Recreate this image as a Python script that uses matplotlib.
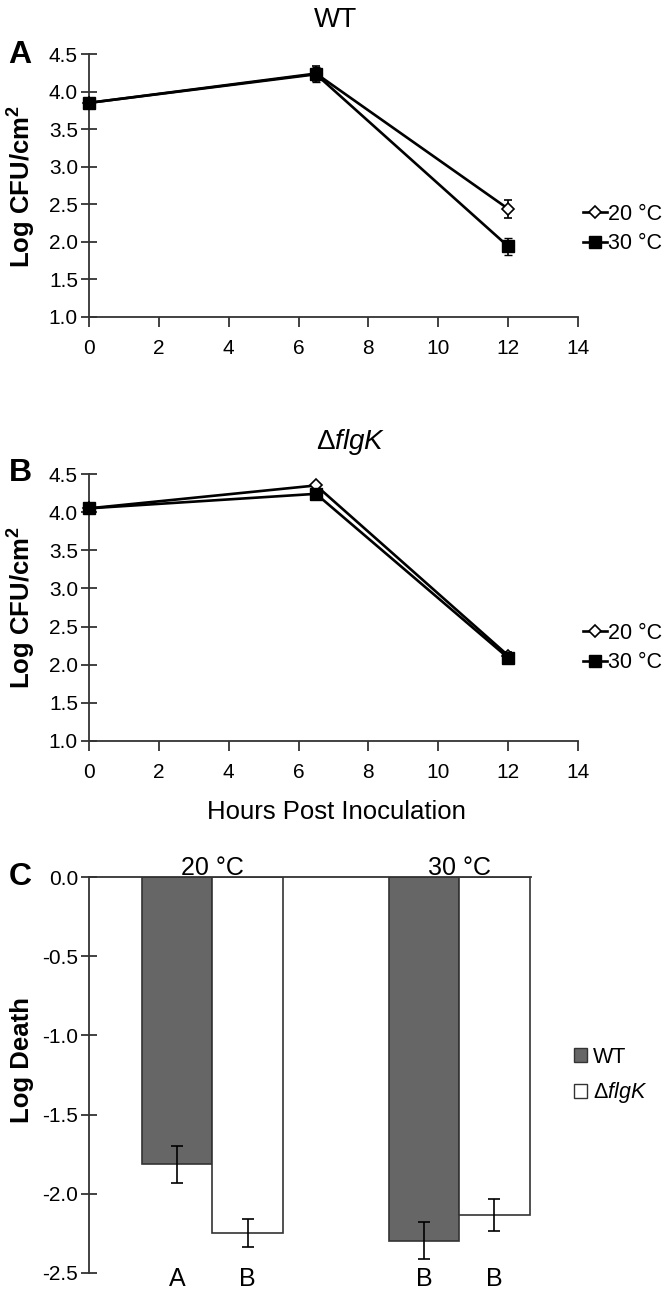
import matplotlib
matplotlib.use("Agg")
import matplotlib.pyplot as plt
from matplotlib.patches import Patch
from matplotlib.lines import Line2D
import numpy as np

plt.rcParams['font.family'] = ['Liberation Sans', 'DejaVu Sans']
plt.rcParams['mathtext.fontset'] = 'custom'
plt.rcParams['mathtext.rm'] = 'Liberation Sans'
plt.rcParams['mathtext.it'] = 'Liberation Sans:italic'
plt.rcParams['mathtext.bf'] = 'Liberation Sans:bold'
plt.rcParams['axes.unicode_minus'] = False

# ---------------- data ----------------
hours = [0, 6.5, 12]
series_labels = ['20 °C', '30 °C']

wt_20 = [3.85, 4.24, 2.44]
wt_20_err = [0.0, 0.10, 0.12]
wt_30 = [3.85, 4.23, 1.94]
wt_30_err = [0.0, 0.10, 0.11]

flgk_20 = [4.05, 4.35, 2.12]
flgk_20_err = [0.0, 0.02, 0.05]
flgk_30 = [4.05, 4.24, 2.09]
flgk_30_err = [0.0, 0.03, 0.05]

temps = ['20 °C', '30 °C']
strains = ['WT', 'ΔflgK']
death_wt = [-1.815, -2.295]
death_wt_err = [0.117, 0.115]
death_flgk = [-2.249, -2.135]
death_flgk_err = [0.090, 0.100]
letters_wt = ['A', 'B']
letters_flgk = ['B', 'B']

xticks_line = [0, 2, 4, 6, 8, 10, 12, 14]
yticks_line = [1.0, 1.5, 2.0, 2.5, 3.0, 3.5, 4.0, 4.5]
yticks_bar = [0.0, -0.5, -1.0, -1.5, -2.0, -2.5]

# ---------------- layout helpers ----------------
W, H = 672, 1292
fig = plt.figure(figsize=(W / 100, H / 100), dpi=100)


def fx(x):
    return x / W


def fy(y):
    return 1 - y / H


def axes_px(left, top, right, bottom):
    return fig.add_axes([fx(left), fy(bottom), (right - left) / W, (bottom - top) / H])


SPINE = '#333333'
TICK_FS = 15
LABEL_FS = 18.5


def style_line_axes(ax):
    for s in ['top', 'right']:
        ax.spines[s].set_visible(False)
    for s in ['left', 'bottom']:
        ax.spines[s].set_color(SPINE)
        ax.spines[s].set_linewidth(1.3)
    ax.set_xlim(0, 14)
    ax.set_ylim(1.0, 4.5)
    ax.set_xticks(xticks_line)
    ax.set_yticks(yticks_line)
    ax.set_yticklabels([f'{v:.1f}' for v in yticks_line])
    ax.tick_params(axis='x', direction='out', length=7, width=1.3, color=SPINE,
                   labelsize=TICK_FS, pad=9)
    ax.tick_params(axis='y', direction='inout', length=12, width=1.3, color=SPINE,
                   labelsize=TICK_FS, pad=2)


def draw_series(ax, y20, e20, y30, e30):
    ax.errorbar(hours, y20, yerr=e20, color='black', lw=1.9, capsize=3, elinewidth=1.2,
                capthick=1.2, marker='D', ms=6, mfc='white', mec='black', mew=1.2,
                clip_on=False, zorder=3, label=series_labels[0])
    ax.errorbar(hours, y30, yerr=e30, color='black', lw=1.9, capsize=3, elinewidth=1.2,
                capthick=1.2, marker='s', ms=8.5, mfc='black', mec='black', mew=1,
                clip_on=False, zorder=4, label=series_labels[1])


def line_legend(y_center):
    handles = [
        Line2D([], [], color='black', lw=1.9, marker='D', ms=6, mfc='white', mec='black', mew=1.2),
        Line2D([], [], color='black', lw=1.9, marker='s', ms=8.5, mfc='black', mec='black'),
    ]
    fig.legend(handles, series_labels, loc='center left',
               bbox_to_anchor=(fx(583), fy(y_center)), frameon=False, fontsize=15.5,
               borderpad=0, borderaxespad=0, handlelength=1.1, handletextpad=0.05,
               labelspacing=0.4)


# ---------------- Panel A ----------------
axA = axes_px(89, 54, 578, 317)
style_line_axes(axA)
draw_series(axA, wt_20, wt_20_err, wt_30, wt_30_err)
line_legend(229)
fig.text(fx(336), fy(20), 'WT', ha='center', va='center', fontsize=20)
fig.text(fx(20), fy(55), 'A', ha='center', va='center', fontsize=23, fontweight='bold')
fig.text(fx(22), fy(186), r'Log CFU/cm$^{\mathbf{2}}$', ha='center', va='center',
         rotation=90, fontsize=LABEL_FS, fontweight='bold')

# ---------------- Panel B ----------------
axB = axes_px(89, 474, 578, 741)
style_line_axes(axB)
draw_series(axB, flgk_20, flgk_20_err, flgk_30, flgk_30_err)
line_legend(648)
fig.text(fx(351), fy(442), r'Δ$\mathit{flgK}$', ha='center', va='center', fontsize=20)
fig.text(fx(20), fy(473), 'B', ha='center', va='center', fontsize=23, fontweight='bold')
fig.text(fx(22), fy(607), r'Log CFU/cm$^{\mathbf{2}}$', ha='center', va='center',
         rotation=90, fontsize=LABEL_FS, fontweight='bold')
fig.text(fx(336), fy(812), 'Hours Post Inoculation', ha='center', va='center',
         fontsize=LABEL_FS)

# ---------------- Panel C ----------------
axC = axes_px(89, 877, 531, 1273)
group_centers = np.array([1.75, 5.25])
bar_w = 1.0
x_wt = group_centers - bar_w / 2
x_fl = group_centers + bar_w / 2
axC.bar(x_wt, death_wt, width=bar_w, color='#666666', edgecolor=SPINE, lw=1.2,
        yerr=death_wt_err, capsize=4.5, error_kw=dict(elinewidth=1.2, capthick=1.2, ecolor='black'),
        label=strains[0], zorder=2)
axC.bar(x_fl, death_flgk, width=bar_w, color='white', edgecolor=SPINE, lw=1.2,
        yerr=death_flgk_err, capsize=4.5, error_kw=dict(elinewidth=1.2, capthick=1.2, ecolor='black'),
        label=strains[1], zorder=2)
axC.set_xlim(0, 6.27)
axC.set_ylim(-2.5, 0.0)
axC.set_yticks(yticks_bar)
axC.set_yticklabels([f'{v:.1f}' for v in yticks_bar])
axC.set_xticks([])
for s in ['bottom', 'right']:
    axC.spines[s].set_visible(False)
for s in ['left', 'top']:
    axC.spines[s].set_color(SPINE)
    axC.spines[s].set_linewidth(1.3)
axC.tick_params(axis='y', direction='inout', length=12, width=1.3, color=SPINE,
                labelsize=TICK_FS, pad=2)

for gc, t in zip(group_centers, temps):
    axC.annotate(t, (gc, 0.0), xytext=(0, 1.5), textcoords='offset points',
                 ha='center', va='baseline', fontsize=18, annotation_clip=False)
for xx, lab in list(zip(x_wt, letters_wt)) + list(zip(x_fl, letters_flgk)):
    axC.annotate(lab, (xx, -2.5), xytext=(0, -9.5), textcoords='offset points',
                 ha='center', va='baseline', fontsize=18, annotation_clip=False)

handlesC = [Patch(facecolor='#666666', edgecolor=SPINE, lw=1.0),
            Patch(facecolor='white', edgecolor=SPINE, lw=1.0)]
fig.legend(handlesC, ['WT', r'Δ$\mathit{flgK}$'], loc='center left',
           bbox_to_anchor=(fx(574), fy(1076)), frameon=False, fontsize=15.5,
           borderpad=0, borderaxespad=0, handlelength=0.6, handleheight=0.6,
           handletextpad=0.3, labelspacing=0.6)
fig.text(fx(20), fy(877), 'C', ha='center', va='center', fontsize=23, fontweight='bold')
fig.text(fx(22), fy(1060), 'Log Death', ha='center', va='center', rotation=90,
         fontsize=LABEL_FS, fontweight='bold')

fig.savefig('out.png', dpi=100, facecolor='white')
